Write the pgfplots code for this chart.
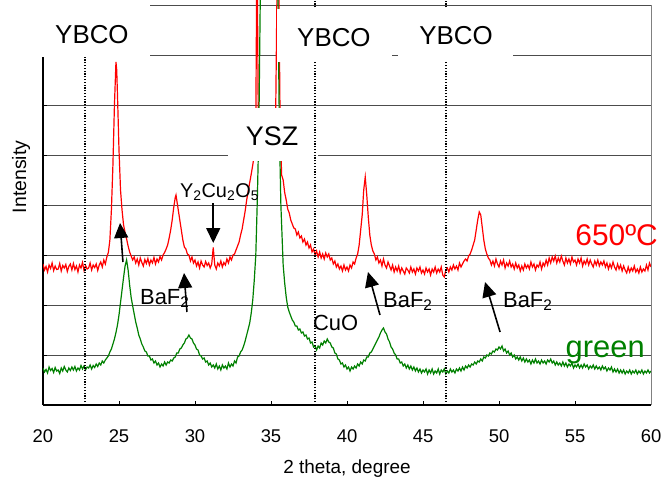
\documentclass[border=0pt]{standalone}
\usepackage{fontspec}
\setmainfont{Liberation Sans}
\usepackage{pgfplots}
\pgfplotsset{compat=1.18}
\usetikzlibrary{arrows.meta}
\definecolor{xred}{RGB}{255,0,0}
\definecolor{xgreen}{RGB}{0,128,0}
\newcommand\fs[1]{\fontsize{#1}{#1}\selectfont}

\begin{document}
\begin{tikzpicture}
\useasboundingbox (-43bp,-75bp) rectangle (618bp,405bp);
\begin{axis}[
  scale only axis, width=608bp, height=405bp,
  xmin=20, xmax=60, ymin=0, ymax=8.1,
  axis x line=bottom, axis y line=left,
  axis line style={-, black, line width=1.5bp},
  xtick={20,25,...,60}, ytick={1,...,8}, yticklabels={},
  tick align=inside, major tick length=4bp, tick style={black, line width=1bp},
  ymajorgrids, major grid style={black!70, line width=1bp},
  clip mode=individual,
  /pgf/number format/assume math mode=true,
  ticklabel style={font=\fs{18.5}},
  xticklabel style={anchor=base, yshift=-37bp},
  xlabel={2 theta, degree}, ylabel={Intensity},
  every axis x label/.style={at={(axis description cs:0.5,0)}, anchor=base, yshift=-68bp, font=\fs{19}},
  every axis y label/.style={at={(axis description cs:-0.036,0.563)}, rotate=90, anchor=center, font=\fs{19.5}},
]
% 650 C sample
\addplot[xred, line width=1.2bp] coordinates {
(20.0,2.82) (20.1,2.70) (20.2,2.77) (20.3,2.66) (20.4,2.80) (20.5,2.73) (20.6,2.84) (20.7,2.69) (20.8,2.78) (20.9,2.71)
(21.0,2.72) (21.1,2.83) (21.2,2.68) (21.3,2.79) (21.4,2.74) (21.5,2.81) (21.6,2.67) (21.7,2.77) (21.8,2.82) (21.9,2.70)
(22.0,2.83) (22.1,2.71) (22.2,2.78) (22.3,2.66) (22.4,2.80) (22.5,2.74) (22.6,2.85) (22.7,2.69) (22.8,2.79) (22.9,2.72)
(23.0,2.74) (23.1,2.84) (23.2,2.70) (23.3,2.80) (23.4,2.75) (23.5,2.82) (23.6,2.69) (23.7,2.80) (23.8,2.86) (23.9,2.76)
(24.0,2.90) (24.1,2.82) (24.2,2.96) (24.3,3.05) (24.4,3.30) (24.5,3.90) (24.6,4.80) (24.7,6.00) (24.8,6.86) (24.85,6.70)
(24.9,6.20) (25.0,5.10) (25.1,4.30) (25.2,3.90) (25.3,3.60) (25.4,3.45) (25.5,3.32) (25.6,3.18) (25.7,3.06) (25.8,2.98)
(25.9,2.90) (26.0,2.96) (26.1,2.84) (26.2,2.92) (26.3,2.80) (26.4,2.94) (26.5,2.85) (26.6,2.78) (26.7,2.91) (26.8,2.83)
(26.9,2.93) (27.0,2.80) (27.1,2.90) (27.2,2.84) (27.3,2.95) (27.4,2.82) (27.5,2.92) (27.6,2.86) (27.7,2.97) (27.8,2.90)
(27.9,3.00) (28.0,3.05) (28.1,3.12) (28.2,3.20) (28.3,3.34) (28.4,3.50) (28.5,3.70) (28.6,3.95) (28.7,4.15) (28.75,4.20)
(28.8,4.10) (28.9,3.90) (29.0,3.70) (29.1,3.50) (29.2,3.30) (29.3,3.16) (29.4,3.12) (29.5,3.02) (29.6,3.00) (29.7,2.88)
(29.8,2.96) (29.9,2.84) (30.0,2.90) (30.1,2.78) (30.2,2.86) (30.3,2.74) (30.4,2.88) (30.5,2.80) (30.6,2.76) (30.7,2.87)
(30.8,2.79) (30.9,2.84) (31.0,2.74) (31.1,2.82) (31.2,3.15) (31.3,2.80) (31.4,2.72) (31.5,2.84) (31.6,2.78) (31.7,2.88)
(31.8,2.76) (31.9,2.85) (32.0,2.80) (32.1,2.92) (32.2,2.84) (32.3,2.96) (32.4,2.90) (32.5,3.00) (32.6,3.02) (32.7,3.10)
(32.8,3.18) (32.9,3.26) (33.0,3.40) (33.1,3.52) (33.2,3.70) (33.3,3.88) (33.4,4.10) (33.5,4.28) (33.6,4.45) (33.7,4.62)
(33.8,4.80) (33.9,5.00) (34.0,5.60) (34.08,9.50) (34.16,5.80) (34.3,5.40) (34.7,5.30) (35.0,5.40) (35.3,5.60) (35.42,9.00)
(35.5,9.00) (35.6,5.60) (35.7,4.60) (35.8,4.50) (35.9,4.25) (36.0,4.10) (36.1,3.92) (36.2,3.84) (36.3,3.70) (36.4,3.62)
(36.5,3.54) (36.6,3.52) (36.7,3.40) (36.8,3.46) (36.9,3.34) (37.0,3.38) (37.1,3.26) (37.2,3.32) (37.3,3.20) (37.4,3.26)
(37.5,3.14) (37.6,3.20) (37.7,3.06) (37.8,3.12) (37.9,3.00) (38.0,3.08) (38.1,2.96) (38.2,3.06) (38.3,2.94) (38.4,3.02)
(38.5,2.92) (38.6,3.04) (38.7,2.96) (38.8,3.02) (38.9,2.90) (39.0,2.94) (39.1,2.82) (39.2,2.88) (39.3,2.76) (39.4,2.82)
(39.5,2.72) (39.6,2.78) (39.7,2.68) (39.8,2.80) (39.9,2.70) (40.0,2.76) (40.1,2.68) (40.2,2.80) (40.3,2.74) (40.4,2.86)
(40.5,2.82) (40.6,2.94) (40.7,3.02) (40.8,3.20) (40.9,3.50) (41.0,3.80) (41.1,4.30) (41.2,4.56) (41.3,4.20) (41.4,3.76)
(41.5,3.40) (41.6,3.20) (41.7,3.08) (41.8,3.02) (41.9,2.90) (42.0,2.96) (42.1,2.84) (42.2,2.90) (42.3,2.78) (42.4,2.92)
(42.5,2.80) (42.6,2.74) (42.7,2.86) (42.8,2.78) (42.9,2.70) (43.0,2.80) (43.1,2.66) (43.2,2.76) (43.3,2.68) (43.4,2.78)
(43.5,2.64) (43.6,2.74) (43.7,2.68) (43.8,2.62) (43.9,2.74) (44.0,2.70) (44.1,2.64) (44.2,2.76) (44.3,2.66) (44.4,2.72)
(44.5,2.62) (44.6,2.74) (44.7,2.68) (44.8,2.76) (44.9,2.64) (45.0,2.70) (45.1,2.62) (45.2,2.74) (45.3,2.66) (45.4,2.72)
(45.5,2.60) (45.6,2.72) (45.7,2.66) (45.8,2.76) (45.9,2.64) (46.0,2.72) (46.1,2.66) (46.2,2.76) (46.3,2.60) (46.4,2.56)
(46.5,2.70) (46.6,2.74) (46.7,2.66) (46.8,2.76) (46.9,2.70) (47.0,2.80) (47.1,2.72) (47.2,2.78) (47.3,2.70) (47.4,2.84)
(47.5,2.76) (47.6,2.82) (47.7,2.88) (47.8,2.92) (47.9,2.88) (48.0,2.98) (48.1,3.02) (48.2,3.10) (48.3,3.20) (48.4,3.30)
(48.5,3.50) (48.6,3.70) (48.7,3.86) (48.8,3.80) (48.9,3.55) (49.0,3.30) (49.1,3.12) (49.2,3.02) (49.3,2.94) (49.4,2.90)
(49.5,2.80) (49.6,2.88) (49.7,2.78) (49.8,2.92) (49.9,2.82) (50.0,2.76) (50.1,2.88) (50.2,2.80) (50.3,2.90) (50.4,2.74)
(50.5,2.84) (50.6,2.78) (50.7,2.88) (50.8,2.76) (50.9,2.82) (51.0,2.72) (51.1,2.84) (51.2,2.74) (51.3,2.80) (51.4,2.68)
(51.5,2.78) (51.6,2.70) (51.7,2.82) (51.8,2.74) (51.9,2.80) (52.0,2.72) (52.1,2.86) (52.2,2.76) (52.3,2.82) (52.4,2.70)
(52.5,2.80) (52.6,2.76) (52.7,2.86) (52.8,2.72) (52.9,2.84) (53.0,2.78) (53.1,2.90) (53.2,2.80) (53.3,2.94) (53.4,2.84)
(53.5,2.96) (53.6,2.88) (53.7,2.98) (53.8,2.84) (53.9,2.94) (54.0,2.86) (54.1,2.98) (54.2,2.88) (54.3,2.80) (54.4,2.94)
(54.5,2.84) (54.6,2.92) (54.7,2.82) (54.8,2.96) (54.9,2.86) (55.0,2.90) (55.1,2.80) (55.2,2.92) (55.3,2.84) (55.4,2.94)
(55.5,2.78) (55.6,2.88) (55.7,2.82) (55.8,2.92) (55.9,2.80) (56.0,2.90) (56.1,2.82) (56.2,2.76) (56.3,2.88) (56.4,2.80)
(56.5,2.90) (56.6,2.78) (56.7,2.86) (56.8,2.80) (56.9,2.88) (57.0,2.76) (57.1,2.84) (57.2,2.72) (57.3,2.82) (57.4,2.74)
(57.5,2.86) (57.6,2.76) (57.7,2.70) (57.8,2.82) (57.9,2.72) (58.0,2.80) (58.1,2.68) (58.2,2.78) (58.3,2.70) (58.4,2.64)
(58.5,2.76) (58.6,2.66) (58.7,2.74) (58.8,2.68) (58.9,2.78) (59.0,2.66) (59.1,2.72) (59.2,2.64) (59.3,2.76) (59.4,2.66)
(59.5,2.72) (59.6,2.68) (59.7,2.80) (59.8,2.70) (59.9,2.84) (60.0,2.76)
};
% green sample
\addplot[xgreen, line width=1.2bp] coordinates {
(20.0,0.74) (20.1,0.66) (20.2,0.71) (20.3,0.64) (20.4,0.76) (20.5,0.69) (20.6,0.73) (20.7,0.65) (20.8,0.75) (20.9,0.68)
(21.0,0.70) (21.1,0.63) (21.2,0.74) (21.3,0.68) (21.4,0.77) (21.5,0.70) (21.6,0.66) (21.7,0.74) (21.8,0.69) (21.9,0.76)
(22.0,0.70) (22.1,0.77) (22.2,0.68) (22.3,0.74) (22.4,0.70) (22.5,0.79) (22.6,0.72) (22.7,0.78) (22.8,0.70) (22.9,0.76)
(23.0,0.74) (23.1,0.80) (23.2,0.72) (23.3,0.79) (23.4,0.75) (23.5,0.82) (23.6,0.77) (23.7,0.84) (23.8,0.80) (23.9,0.88)
(24.0,0.84) (24.1,0.90) (24.2,0.94) (24.3,0.98) (24.4,1.06) (24.5,1.12) (24.6,1.22) (24.7,1.32) (24.8,1.45) (24.9,1.60)
(25.0,1.80) (25.1,2.05) (25.2,2.30) (25.3,2.55) (25.4,2.78) (25.5,2.90) (25.6,2.70) (25.7,2.40) (25.8,2.15) (25.9,1.98)
(26.0,1.82) (26.1,1.66) (26.2,1.54) (26.3,1.40) (26.4,1.32) (26.5,1.22) (26.6,1.16) (26.7,1.08) (26.8,1.06) (26.9,0.98)
(27.0,0.98) (27.1,0.90) (27.2,0.92) (27.3,0.84) (27.4,0.88) (27.5,0.80) (27.6,0.84) (27.7,0.76) (27.8,0.82) (27.9,0.78)
(28.0,0.86) (28.1,0.80) (28.2,0.86) (28.3,0.84) (28.4,0.90) (28.5,0.88) (28.6,0.94) (28.7,0.96) (28.8,1.04) (28.9,1.04)
(29.0,1.12) (29.1,1.14) (29.2,1.20) (29.3,1.24) (29.4,1.32) (29.5,1.34) (29.6,1.40) (29.7,1.34) (29.8,1.32) (29.9,1.24)
(30.0,1.20) (30.1,1.12) (30.2,1.10) (30.3,1.00) (30.4,0.98) (30.5,0.92) (30.6,0.94) (30.7,0.86) (30.8,0.88) (30.9,0.80)
(31.0,0.84) (31.1,0.76) (31.2,0.80) (31.3,0.74) (31.4,0.82) (31.5,0.72) (31.6,0.78) (31.7,0.70) (31.8,0.80) (31.9,0.74)
(32.0,0.78) (32.1,0.72) (32.2,0.84) (32.3,0.76) (32.4,0.82) (32.5,0.78) (32.6,0.88) (32.7,0.84) (32.8,0.96) (32.9,0.98)
(33.0,1.06) (33.1,1.10) (33.2,1.18) (33.3,1.28) (33.4,1.40) (33.5,1.52) (33.6,1.64) (33.7,1.84) (33.8,2.10) (33.9,2.50)
(34.0,3.00) (34.1,4.10) (34.2,5.50) (34.3,8.30) (34.35,10.0) (35.35,10.0) (35.45,8.50) (35.55,5.50) (35.65,4.00) (35.75,3.20)
(35.8,2.80) (35.9,2.44) (36.0,2.16) (36.1,1.96) (36.2,1.86) (36.3,1.78) (36.4,1.70) (36.5,1.66) (36.6,1.58) (36.7,1.58)
(36.8,1.50) (36.9,1.52) (37.0,1.44) (37.1,1.46) (37.2,1.38) (37.3,1.40) (37.4,1.32) (37.5,1.34) (37.6,1.24) (37.7,1.26)
(37.8,1.16) (37.9,1.18) (38.0,1.10) (38.1,1.18) (38.2,1.14) (38.3,1.24) (38.4,1.20) (38.5,1.28) (38.6,1.24) (38.7,1.32)
(38.8,1.26) (38.9,1.24) (39.0,1.16) (39.1,1.14) (39.2,1.04) (39.3,1.02) (39.4,0.92) (39.5,0.90) (39.6,0.82) (39.7,0.84)
(39.8,0.76) (39.9,0.80) (40.0,0.72) (40.1,0.76) (40.2,0.68) (40.3,0.76) (40.4,0.72) (40.5,0.78) (40.6,0.74) (40.7,0.82)
(40.8,0.78) (40.9,0.86) (41.0,0.82) (41.1,0.90) (41.2,0.88) (41.3,0.96) (41.4,0.96) (41.5,1.04) (41.6,1.06) (41.7,1.12)
(41.8,1.18) (41.9,1.24) (42.0,1.30) (42.1,1.36) (42.2,1.44) (42.3,1.50) (42.4,1.54) (42.5,1.46) (42.6,1.42) (42.7,1.32)
(42.8,1.26) (42.9,1.16) (43.0,1.12) (43.1,1.04) (43.2,1.00) (43.3,0.92) (43.4,0.92) (43.5,0.84) (43.6,0.86) (43.7,0.78)
(43.8,0.82) (43.9,0.74) (44.0,0.80) (44.1,0.72) (44.2,0.78) (44.3,0.70) (44.4,0.76) (44.5,0.68) (44.6,0.74) (44.7,0.66)
(44.8,0.72) (44.9,0.64) (45.0,0.70) (45.1,0.66) (45.2,0.72) (45.3,0.62) (45.4,0.70) (45.5,0.64) (45.6,0.72) (45.7,0.62)
(45.8,0.68) (45.9,0.64) (46.0,0.72) (46.1,0.62) (46.2,0.70) (46.3,0.66) (46.4,0.72) (46.5,0.62) (46.6,0.68) (46.7,0.64)
(46.8,0.72) (46.9,0.66) (47.0,0.70) (47.1,0.64) (47.2,0.72) (47.3,0.68) (47.4,0.74) (47.5,0.68) (47.6,0.76) (47.7,0.70)
(47.8,0.78) (47.9,0.74) (48.0,0.80) (48.1,0.76) (48.2,0.82) (48.3,0.80) (48.4,0.86) (48.5,0.82) (48.6,0.88) (48.7,0.86)
(48.8,0.92) (48.9,0.88) (49.0,0.96) (49.1,0.94) (49.2,1.00) (49.3,0.98) (49.4,1.04) (49.5,1.02) (49.6,1.08) (49.7,1.06)
(49.8,1.12) (49.9,1.10) (50.0,1.16) (50.1,1.12) (50.2,1.18) (50.3,1.08) (50.4,1.12) (50.5,1.04) (50.6,1.08) (50.7,1.00)
(50.8,1.04) (50.9,0.96) (51.0,1.00) (51.1,0.92) (51.2,0.96) (51.3,0.90) (51.4,0.96) (51.5,0.88) (51.6,0.94) (51.7,0.86)
(51.8,0.92) (51.9,0.86) (52.0,0.90) (52.1,0.82) (52.2,0.90) (52.3,0.84) (52.4,0.92) (52.5,0.84) (52.6,0.88) (52.7,0.82)
(52.8,0.90) (52.9,0.84) (53.0,0.88) (53.1,0.82) (53.2,0.90) (53.3,0.86) (53.4,0.92) (53.5,0.84) (53.6,0.88) (53.7,0.80)
(53.8,0.86) (53.9,0.80) (54.0,0.84) (54.1,0.78) (54.2,0.86) (54.3,0.78) (54.4,0.84) (54.5,0.76) (54.6,0.82) (54.7,0.78)
(54.8,0.84) (54.9,0.74) (55.0,0.80) (55.1,0.76) (55.2,0.82) (55.3,0.74) (55.4,0.80) (55.5,0.74) (55.6,0.82) (55.7,0.76)
(55.8,0.80) (55.9,0.72) (56.0,0.78) (56.1,0.74) (56.2,0.80) (56.3,0.72) (56.4,0.78) (56.5,0.72) (56.6,0.76) (56.7,0.70)
(56.8,0.78) (56.9,0.72) (57.0,0.76) (57.1,0.68) (57.2,0.74) (57.3,0.70) (57.4,0.76) (57.5,0.66) (57.6,0.72) (57.7,0.66)
(57.8,0.72) (57.9,0.64) (58.0,0.70) (58.1,0.64) (58.2,0.70) (58.3,0.62) (58.4,0.68) (58.5,0.64) (58.6,0.70) (58.7,0.62)
(58.8,0.68) (58.9,0.64) (59.0,0.70) (59.1,0.62) (59.2,0.68) (59.3,0.64) (59.4,0.70) (59.5,0.62) (59.6,0.68) (59.7,0.64)
(59.8,0.70) (59.9,0.64) (60.0,0.68)
};
% right frame
\draw[gray, line width=1bp] (axis cs:60,0) -- (axis cs:60,8);
% YSZ label box
\fill[white] (axis cs:32.17,4.88) rectangle (axis cs:38.09,5.94);
\node[anchor=base, inner sep=0, font=\fs{27}] at (axis cs:35.07,5.2) {YSZ};
% YBCO reference positions
\draw[black, line width=1.2bp, dash pattern=on 1.2bp off 1.6bp] (axis cs:22.76,0) -- (axis cs:22.76,8.1);
\draw[black, line width=1.2bp, dash pattern=on 1.2bp off 1.6bp] (axis cs:37.89,0) -- (axis cs:37.89,8.1);
\draw[black, line width=1.2bp, dash pattern=on 1.2bp off 1.6bp] (axis cs:46.51,0) -- (axis cs:46.51,8.1);
\fill[white] (axis cs:17.17,6.96) rectangle (axis cs:27.04,8.2);
\fill[white] (axis cs:35.39,6.86) rectangle (axis cs:42.96,7.92);
\fill[white] (axis cs:43.36,6.88) rectangle (axis cs:50.92,7.95);
\node[anchor=base, inner sep=0, font=\fs{26}] at (axis cs:23.22,7.24) {YBCO};
\node[anchor=base, inner sep=0, font=\fs{26}] at (axis cs:39.14,7.18) {YBCO};
\node[anchor=base, inner sep=0, font=\fs{26}] at (axis cs:47.17,7.22) {YBCO};
% arrows
\draw[-{Triangle[width=14bp,length=15bp]}, line width=1.6bp] (axis cs:25.26,2.86) -- (axis cs:25.07,3.64);
\draw[-{Triangle[width=14bp,length=15bp]}, line width=1.6bp] (axis cs:29.47,1.86) -- (axis cs:29.28,2.64);
\draw[-{Triangle[width=14bp,length=15bp]}, line width=1.6bp] (axis cs:42.17,1.80) -- (axis cs:41.38,2.66);
\draw[-{Triangle[width=14bp,length=15bp]}, line width=1.6bp] (axis cs:50.07,1.46) -- (axis cs:49.08,2.46);
\draw[-{Triangle[width=14bp,length=15bp]}, line width=1.6bp] (axis cs:31.20,4.04) -- (axis cs:31.20,3.24);
% phase labels
\node[anchor=base west, inner sep=0, font=\fs{20}] at (axis cs:29.0,4.16) {Y\textsubscript{2}Cu\textsubscript{2}O\textsubscript{5}};
\node[anchor=base west, inner sep=0, font=\fs{22}] at (axis cs:26.38,2.02) {BaF\textsubscript{2}};
\node[anchor=base west, inner sep=0, font=\fs{22}] at (axis cs:42.37,1.96) {BaF\textsubscript{2}};
\node[anchor=base west, inner sep=0, font=\fs{22}] at (axis cs:50.26,1.96) {BaF\textsubscript{2}};
\node[anchor=base west, inner sep=0, font=\fs{22}] at (axis cs:37.76,1.50) {CuO};
\node[anchor=base east, inner sep=0, font=\fs{30}, text=xred] at (axis cs:60.46,3.20) {650ºC};
\node[anchor=base east, inner sep=0, font=\fs{31}, text=xgreen] at (axis cs:59.60,0.96) {green};
\end{axis}
\end{tikzpicture}
\end{document}
